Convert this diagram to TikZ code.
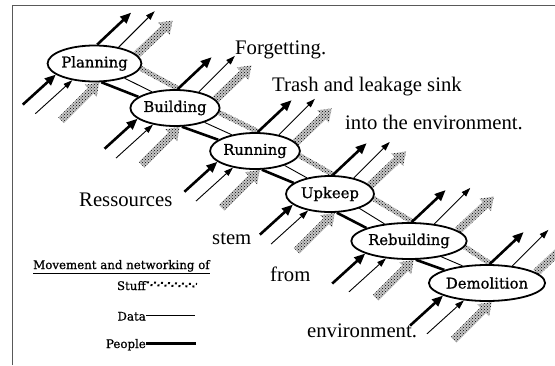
\documentclass[tikz,border=0pt]{standalone}
\usepackage{fontspec}
\setmainfont{Liberation Serif}
\newfontfamily\labfont[FakeBold=0.8]{DejaVu Serif}
\usetikzlibrary{calc,patterns,shapes.geometric,arrows.meta,backgrounds}

\newcommand\stuffarrow[2]{%
  \coordinate (sh) at ($(#2)!12pt!(#1)$);
  \path[stufftex] ($(#1)!4pt!90:(#2)$) -- ($(sh)!4pt!90:(#2)$) -- ($(sh)!8.5pt!90:(#2)$) -- (#2)
    -- ($(sh)!8.5pt!-90:(#2)$) -- ($(sh)!4pt!-90:(#2)$) -- ($(#1)!4pt!-90:(#2)$) -- cycle;}
\newcommand\stuffband[2]{%
  \path[stufftex] ($(#1)!2.6pt!90:(#2)$) -- ($(#2)!2.6pt!-90:(#1)$) -- ($(#2)!2.6pt!90:(#1)$)
    -- ($(#1)!2.6pt!-90:(#2)$) -- cycle;}

\begin{document}
\begin{tikzpicture}[x=1pt,y=-1pt,
  stage/.style={ellipse, draw, line width=1.8pt, fill=white, minimum width=88pt, minimum height=36pt,
    inner sep=0pt, font=\labfont\fontsize{14.8}{16}\selectfont},
  people/.style={line width=2.6pt, -{Triangle[length=11pt,width=9pt]}},
  data/.style={line width=0.9pt, -{Triangle[length=9pt,width=6pt]}},
  peopleline/.style={line width=2.6pt},
  dataline/.style={line width=0.9pt},
  stufftex/.style={fill=gray!45, postaction={pattern=crosshatch dots, pattern color=black}},
  big/.style={font=\fontsize{20.7}{24}\selectfont, anchor=base west, inner sep=0pt},
  leg/.style={font=\labfont\fontsize{11.8}{13}\selectfont, inner sep=0pt, anchor=base east},
]
\useasboundingbox (0,0) rectangle (555,365);
\draw[line width=1pt, black!65] (12,365) -- (12,5.5) -- (555,5.5);

\foreach \n/\x/\y/\t in {P/94.5/63.5/Planning, B/175/108/Building, R/255/151/Running,
    U/330/194/Upkeep, RB/409/241/Rebuilding, D/487/283/Demolition}
  \node[stage] (\n) at (\x,\y) {\t};

\begin{scope}[on background layer]
\foreach \a/\b in {P/B,B/R,R/U,U/RB,RB/D} {
  \stuffband{\a.354}{\b.78}
  \draw[peopleline] (\a.290) -- (\b.163);
  \draw[dataline] (\a.334) -- (\b.145);
}
\foreach \n in {P,B,R,U,RB,D} {
  \coordinate (\n-si) at ($(\n.284)+(-38,38)$);
  \coordinate (\n-so) at ($(\n.12)+(36,-34)$);
  \stuffarrow{\n-si}{\n.284}
  \stuffarrow{\n.12}{\n-so}
  \coordinate (\n-pi) at ($(\n.196)+(-33,30)$);
  \coordinate (\n-di) at ($(\n.217)+(-37,33.5)$);
  \coordinate (\n-po) at ($(\n.82)+(34,-32)$);
  \coordinate (\n-do) at ($(\n.34)+(36,-36)$);
  \draw[people] (\n-pi) -- (\n.196);
  \draw[data] (\n-di) -- (\n.217);
  \draw[people] (\n.82) -- (\n-po);
  \draw[data] (\n.34) -- (\n-do);
}
\end{scope}

\node[big] (t1) at (235,54) {Forgetting.};
\node[big] (t2) at (272,91.5) {Trash and leakage sink};
\node[big] (t3) at (345,129) {into the environment.};
\node[big] (t4) at (79,206) {Ressources};
\node[big] (t5) at (212,244) {stem};
\node[big] (t6) at (270,281) {from};
\node[big] (t7) at (307,337) {environment.};

\node[font=\labfont\fontsize{11.8}{13}\selectfont, inner sep=0pt, anchor=base west] (lt) at (33,269)
  {\underline{Movement and networking of}};
\node[leg] (ls) at (146,290) {Stuff};
\node[leg] (ld) at (146,320.5) {Data};
\node[leg] (lp) at (146,348) {People};
\coordinate (ls2) at (197,284);
\coordinate (ld2) at (195,315.5);
\coordinate (lp2) at (196,343.5);
\draw[line width=2pt, dash pattern=on 2pt off 5pt] ($(ls.east)+(1,-3.2)$) -- (ls2);
\draw[line width=2pt, dash pattern=on 2pt off 5pt, dash phase=3.5pt] ($(ls.east)+(1,-0.6)$) -- ($(ls2)+(0,2.6)$);
\draw[dataline] ($(ld.base east)+(0,-5)$) -- (ld2);
\draw[peopleline] ($(lp.base east)+(0,-4.5)$) -- (lp2);
\end{tikzpicture}
\end{document}
